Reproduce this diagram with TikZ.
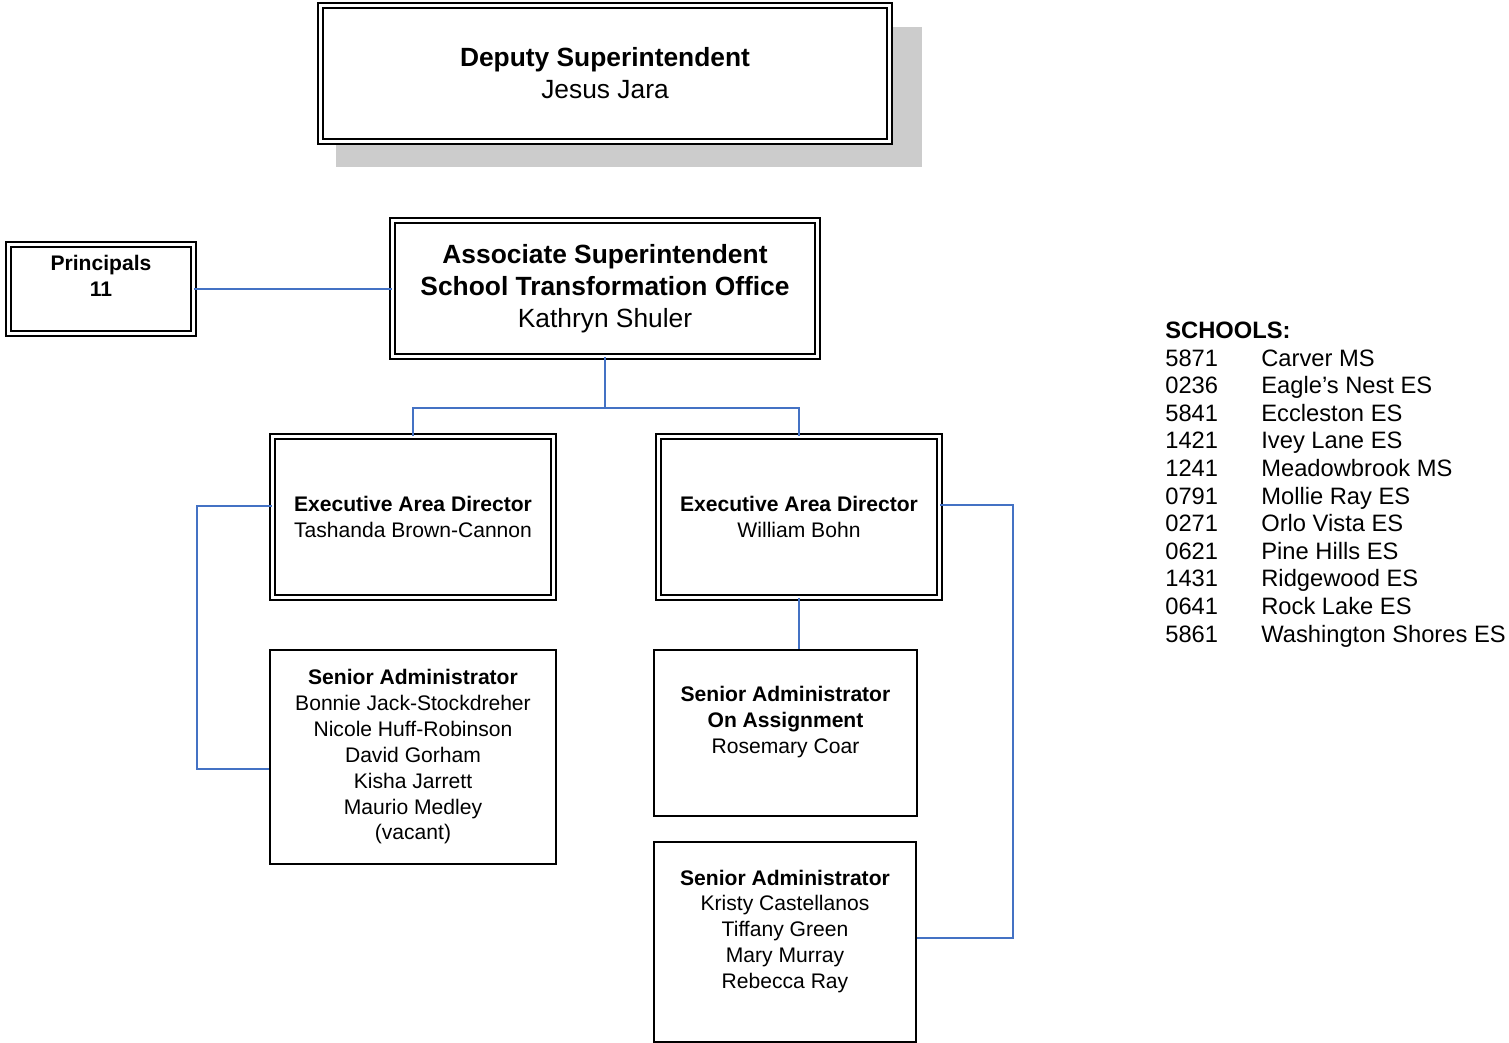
\documentclass[tikz,border=0pt]{standalone}
\usepackage{fontspec}
\setmainfont{Liberation Sans}
\usetikzlibrary{calc,shadows}
\definecolor{linkblue}{HTML}{4472C4}
\definecolor{shadowgray}{HTML}{CCCCCC}
\tikzset{
  chart/.style={x=0.02cm, y=-0.02cm},
  obox/.style={draw, double, double distance=1.6pt, line width=1pt, fill=white,
    align=center, inner sep=0pt},
  sbox/.style={draw, line width=1pt, fill=white, align=center, inner sep=0pt},
  bigtxt/.style={font=\fontsize{15}{18.2}\selectfont},
  smltxt/.style={font=\fontsize{12}{14.7}\selectfont},
  olink/.style={draw=linkblue, line width=1pt},
  slist/.style={font=\fontsize{13.5}{15.6}\selectfont, inner sep=0pt, anchor=base west},
}

\begin{document}
\begin{tikzpicture}[chart]
  \useasboundingbox (0,0) rectangle (1509,1043);
  % Deputy Superintendent, top centre
  \node[obox, bigtxt, minimum width=11.38cm, minimum height=2.72cm,
        general shadow={fill=shadowgray, shadow scale=1.03,
          shadow xshift=0.47cm, shadow yshift=-0.46cm}]
    (dep) at (605,73.5) {\textbf{Deputy Superintendent}\\Jesus Jara};
  % Associate Superintendent and Principals
  \node[obox, bigtxt, minimum width=8.5cm, minimum height=2.72cm]
    (assoc) at (605,288.5)
    {\textbf{Associate Superintendent}\\\textbf{School Transformation Office}\\Kathryn Shuler};
  \node[obox, smltxt, minimum width=3.7cm, minimum height=1.78cm]
    (prin) at (101,289) {\textbf{Principals}\\\textbf{11}\\\mbox{}};
  % Executive Area Directors
  \node[obox, smltxt, minimum width=5.62cm, minimum height=3.22cm]
    (eadL) at (413,517) {\textbf{Executive Area Director}\\Tashanda Brown-Cannon};
  \node[obox, smltxt, minimum width=5.62cm, minimum height=3.22cm]
    (eadR) at (799,517) {\textbf{Executive Area Director}\\William Bohn};
  % Senior Administrators
  \node[sbox, smltxt, minimum width=5.72cm, minimum height=4.28cm]
    (saL) at (413,757) {\textbf{Senior Administrator}\\Bonnie Jack-Stockdreher\\
      Nicole Huff-Robinson\\David Gorham\\Kisha Jarrett\\Maurio Medley\\(vacant)};
  \node[sbox, smltxt, minimum width=5.26cm, minimum height=3.32cm]
    (saoa) at (785.5,733) {\textbf{Senior Administrator}\\\textbf{On Assignment}\\
      Rosemary Coar\\\mbox{}};
  \node[sbox, smltxt, minimum width=5.24cm, minimum height=4.0cm]
    (saR) at (785,942) {\textbf{Senior Administrator}\\Kristy Castellanos\\
      Tiffany Green\\Mary Murray\\Rebecca Ray\\\mbox{}};
  % connectors
  \coordinate (bus) at (605,408);
  \draw[olink] (prin.east) -- (prin.east -| assoc.west);
  \draw[olink] (assoc.south) -- (bus);
  \draw[olink] (eadL.north) |- (bus) -| (eadR.north);
  \draw[olink] ([yshift=0.22cm]eadL.west) -- ++(-75,0) |- ([yshift=-0.24cm]saL.west);
  \draw[olink] (eadR.south) -- (eadR.south |- saoa.north);
  \draw[olink] ([yshift=0.24cm]eadR.east) -- ++(73,0) |- ([yshift=0.08cm]saR.east);
  % school list
  \node[slist] (shead) at (1165,338.5) {\textbf{SCHOOLS:}};
  \foreach \num/\sch [count=\i] in {5871/Carver MS, 0236/Eagle’s Nest ES,
      5841/Eccleston ES, 1421/Ivey Lane ES, 1241/Meadowbrook MS,
      0791/Mollie Ray ES, 0271/Orlo Vista ES, 0621/Pine Hills ES,
      1431/Ridgewood ES, 0641/Rock Lake ES, 5861/Washington Shores ES}{
    \node[slist] (num\i) at (1165,338.5+27.6*\i) {\num};
    \node[slist] (sch\i) at (1261,338.5+27.6*\i) {\sch};
  }
\end{tikzpicture}
\end{document}
